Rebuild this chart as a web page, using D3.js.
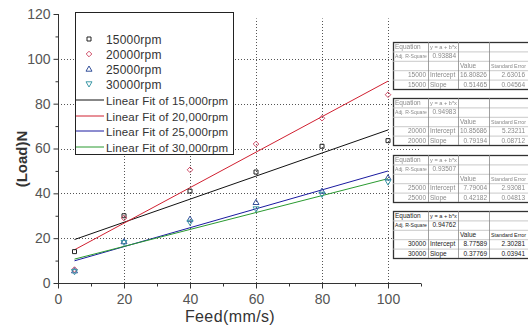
<!DOCTYPE html>
<html>
<head>
<meta charset="utf-8">
<script src="https://cdn.jsdelivr.net/npm/d3@7"></script>
<style>
  html, body { margin: 0; padding: 0; background: #fff; }
  svg { display: block; font-family: "Liberation Sans", Arial, sans-serif; }
</style>
</head>
<body>
<svg id="chart" width="528" height="328"></svg>
<script>
// Cutting load versus feed rate at four spindle speeds
const feed = [5, 20, 40, 60, 80, 100];
const load15000 = [14, 30, 41, 49.5, 61, 63.5];
const load20000 = [6, 29, 50.5, 62, 73.5, 84];
const load25000 = [5.5, 18.5, 28.5, 36, 41, 47];
const load30000 = [5, 18, 27, 33, 39.5, 45];

const speedNames = ["15000rpm", "20000rpm", "25000rpm", "30000rpm"];
const fitNames = ["Linear Fit of 15,000rpm", "Linear Fit of 20,000rpm",
                  "Linear Fit of 25,000rpm", "Linear Fit of 30,000rpm"];
const speedIds = ["15000", "20000", "25000", "30000"];

// Linear regression results (y = a + b*x)
const fitIntercept = [16.80826, 10.85686, 7.79004, 8.77589];
const fitSlope = [0.51465, 0.79194, 0.42182, 0.37769];
const adjR2 = ["0.93884", "0.94983", "0.93507", "0.94762"];
const seIntercept = ["2.63016", "5.23211", "2.93081", "2.30281"];
const seSlope = ["0.04564", "0.08712", "0.04813", "0.03941"];

const xTicks = [0, 20, 40, 60, 80, 100];
const yTicks = [0, 20, 40, 60, 80, 100, 120];

const series = [load15000, load20000, load25000, load30000];
const markerColors = ["#222", "#d0506a", "#33509a", "#3f9aa8"];
const lineColors = ["#111", "#d02030", "#1a1aa0", "#2a9a30"];

const svg = d3.select("#chart");
const x = d3.scaleLinear().domain([0, 110]).range([58, 421]);
const y = d3.scaleLinear().domain([0, 120]).range([283, 14]);

// Dotted grid
const grid = svg.append("g").attr("stroke", "#555").attr("stroke-width", 1)
  .attr("stroke-dasharray", "1,2");
grid.selectAll("line.h").data(yTicks.filter(v => v > 0 && v < 120)).join("line")
  .attr("class", "h").attr("x1", x(0) + 3).attr("x2", x(110))
  .attr("y1", d => Math.round(y(d)) + 0.5).attr("y2", d => Math.round(y(d)) + 0.5);
grid.selectAll("line.v").data(xTicks.filter(v => v > 0)).join("line")
  .attr("class", "v").attr("y1", y(0)).attr("y2", y(118))
  .attr("x1", d => Math.round(x(d)) + 0.5).attr("x2", d => Math.round(x(d)) + 0.5);

// Axes
const xAxis = svg.append("g").attr("transform", `translate(0,${Math.round(y(0)) + 0.5})`)
  .call(d3.axisBottom(x).tickValues(d3.range(0, 111, 10)).tickSize(4)
    .tickFormat(d => xTicks.includes(d) ? d : ""));
xAxis.selectAll(".tick line").attr("y2", d => xTicks.includes(d) ? 5 : 3);
const yAxis = svg.append("g").attr("transform", `translate(${Math.round(x(0)) + 0.5},0)`)
  .call(d3.axisLeft(y).tickValues(d3.range(0, 121, 10)).tickSize(4)
    .tickFormat(d => yTicks.includes(d) ? d : ""));
yAxis.selectAll(".tick line").attr("x2", d => yTicks.includes(d) ? -5 : -3);
[xAxis, yAxis].forEach(a => {
  a.select(".domain").attr("stroke", "#333");
  a.selectAll(".tick line").attr("stroke", "#333");
  a.selectAll(".tick text").attr("fill", "#555").style("font-size", "14px")
    .style("font-family", "Liberation Sans, Arial, sans-serif");
});
xAxis.select(".domain").attr("d", `M${x(0)},0H${x(110)}`);
yAxis.select(".domain").attr("d", `M0,${y(0)}V${y(120)}`);
xAxis.selectAll(".tick text").attr("dy", "0.95em");
yAxis.selectAll(".tick text").attr("x", -8);

// Axis titles
svg.append("text").attr("transform", `translate(27,159) rotate(-90)`)
  .attr("text-anchor", "middle").attr("font-size", 15).attr("font-weight", "bold")
  .attr("fill", "#333").text("(Load)N");
svg.append("text").attr("x", 230).attr("y", 322).attr("text-anchor", "middle")
  .attr("font-size", 16).attr("fill", "#333").attr("letter-spacing", 0.4).text("Feed(mm/s)");

// Fit lines
const plot = svg.append("g");
fitIntercept.forEach((a, i) => {
  const b = fitSlope[i];
  plot.append("line")
    .attr("x1", x(5)).attr("y1", y(a + b * 5))
    .attr("x2", x(100)).attr("y2", y(a + b * 100))
    .attr("stroke", lineColors[i]).attr("stroke-width", 1);
});

// Open markers: square, diamond, up-triangle, down-triangle
const markerPaths = [
  "M-2,-2H2V2H-2Z",
  "M0,-2.8L2.8,0L0,2.8L-2.8,0Z",
  "M0,-3L3,2.2H-3Z",
  "M0,3L3,-2.2H-3Z"
];
function marker(sel, i) {
  sel.attr("d", markerPaths[i]).attr("fill", "none")
    .attr("stroke", markerColors[i]).attr("stroke-width", 1);
}
series.forEach((vals, i) => {
  plot.selectAll(null).data(vals).join("path")
    .attr("transform", (d, j) => `translate(${x(feed[j])},${y(d)})`)
    .call(marker, i);
});

// Legend
const lg = svg.append("g");
lg.append("rect").attr("x", 75.5).attr("y", 12.5).attr("width", 158).attr("height", 142)
  .attr("fill", "#fff").attr("stroke", "#222");
const rowY = [39, 54, 69, 84, 100, 116, 131, 147];
speedNames.forEach((name, i) => {
  lg.append("path").attr("transform", `translate(89,${rowY[i]})`).call(marker, i);
  lg.append("text").attr("x", 106).attr("y", rowY[i] + 4.5).attr("font-size", 12)
    .attr("letter-spacing", 0.2).attr("fill", "#333").text(name);
});
fitNames.forEach((name, i) => {
  const yy = rowY[i + 4];
  lg.append("line").attr("x1", 76).attr("x2", 104).attr("y1", yy).attr("y2", yy)
    .attr("stroke", lineColors[i]).attr("stroke-width", 1);
  lg.append("text").attr("x", 106).attr("y", yy + 4.5).attr("font-size", 11.5)
    .attr("letter-spacing", 0.15).attr("fill", "#333").text(name);
});

// Regression result tables
const tableTop = [42, 98, 155, 211];
const colX = [393, 428, 458, 489, 527];
const rowH = 9.4;
const defs = svg.append("defs");
defs.append("filter").attr("id", "soft").append("feGaussianBlur").attr("stdDeviation", 0.45);

speedIds.forEach((id, t) => {
  const g = svg.append("g");
  if (t < 3) g.attr("filter", "url(#soft)");
  const top = tableTop[t];
  const h = rowH * 5;
  const textColor = t < 3 ? "#8a8a8a" : "#222";
  g.append("rect").attr("x", colX[0] + 0.5).attr("y", top + 0.5).attr("width", colX[4] - colX[0] + 4)
    .attr("height", h).attr("fill", "#fff").attr("stroke", "#333").attr("stroke-width", 1.3);
  for (let r = 1; r < 5; r++) {
    g.append("line").attr("x1", colX[0]).attr("x2", colX[4] + 4)
      .attr("y1", top + r * rowH + 0.5).attr("y2", top + r * rowH + 0.5)
      .attr("stroke", "#bbb").attr("stroke-width", 0.8);
  }
  for (let c = 1; c < 4; c++) {
    g.append("line").attr("x1", colX[c] + 0.5).attr("x2", colX[c] + 0.5)
      .attr("y1", top).attr("y2", top + h).attr("stroke", "#888").attr("stroke-width", 0.8);
  }
  const cells = [
    [["Equation", "start"], ["y = a + b*x", "start"], null, null],
    [["Adj. R-Square", "start"], [adjR2[t], "end"], null, null],
    [null, null, ["Value", "start"], ["Standard Error", "start"]],
    [[id, "end"], ["Intercept", "start"], [fitIntercept[t].toFixed(5), "end"], [seIntercept[t], "end"]],
    [[id, "end"], ["Slope", "start"], [fitSlope[t].toFixed(5), "end"], [seSlope[t], "end"]]
  ];
  cells.forEach((row, r) => row.forEach((cell, c) => {
    if (!cell) return;
    const w = colX[c + 1] - colX[c] - 3;
    const txt = g.append("text")
      .attr("x", cell[1] === "end" ? colX[c + 1] - 2 : colX[c] + 2)
      .attr("y", top + r * rowH + 7).attr("text-anchor", cell[1])
      .attr("font-size", 6.5).attr("fill", textColor).text(cell[0]);
    // shrink any entry that is wider than its cell
    const len = txt.node().getComputedTextLength();
    if (len > w) txt.attr("font-size", 6.5 * w / len);
  }));
});
</script>
</body>
</html>
